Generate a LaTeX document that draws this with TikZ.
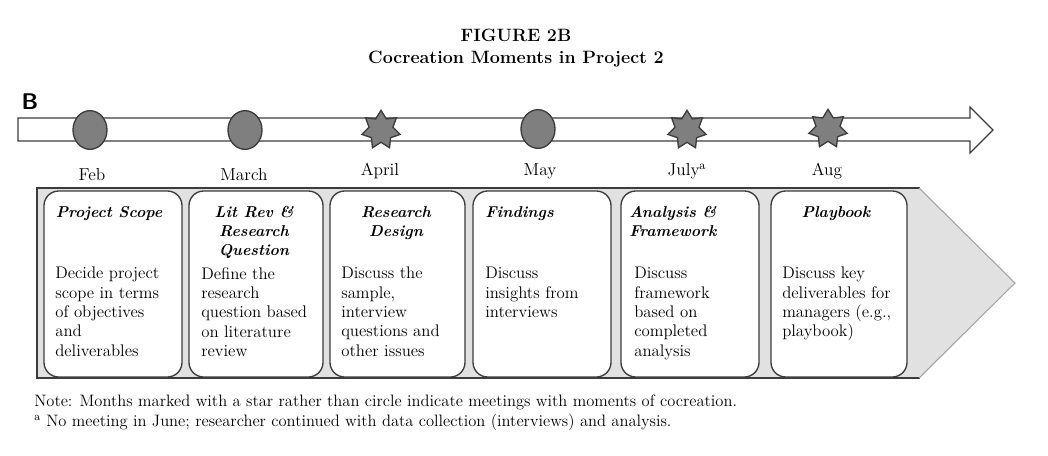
\documentclass[tikz,border=0pt]{standalone}
\usetikzlibrary{shapes.geometric}
\definecolor{edge}{HTML}{3C3C3C}
\definecolor{markfill}{HTML}{7F7F7F}
\definecolor{band}{HTML}{E1E1E1}
\begin{document}
\begin{tikzpicture}[x=0.75pt,y=-0.75pt,
  card/.style={draw=edge,line width=1pt,fill=white,rounded corners=11pt,inner sep=0pt},
  ttl/.style={anchor=north,font=\fontsize{11.8}{14.3}\selectfont\bfseries\itshape,inner sep=0pt},
  body/.style={anchor=north west,align=left,font=\fontsize{12.6}{14.5}\selectfont,inner sep=0pt},
  month/.style={font=\fontsize{13}{15}\selectfont,inner sep=0pt},
  dot/.style={ellipse,draw=edge,line width=1pt,fill=markfill,minimum width=25.5pt,minimum height=29pt,inner sep=0pt},
  starm/.style={star,star points=7,star point ratio=1.6,draw=edge,line width=1pt,fill=markfill,minimum size=29.5pt,inner sep=0pt}]
\useasboundingbox (0,0) rectangle (1048,455);
% title
\node[font=\fontsize{13.4}{16}\selectfont\bfseries] (t1) at (516,35) {FIGURE 2B};
\node[font=\fontsize{13.4}{16}\selectfont\bfseries] (t2) at (516,59) {Cocreation Moments in Project 2};
\node[font=\fontsize{17}{20}\sffamily\bfseries,inner sep=0pt] (lbl) at (30,102) {B};
% timeline arrow
\draw[draw=edge,line width=1pt,fill=white] (18,118) -- (970,118) -- (970,107) -- (993,130) -- (970,153) -- (970,141) -- (18,141) -- cycle;
% markers
\node[dot] (m1) at (90,130) {};
\node[dot] (m2) at (245,130) {};
\node[starm] (m3) at (381,130) {};
\node[dot] (m4) at (538,129) {};
\node[starm] (m5) at (687,130) {};
\node[starm] (m6) at (828,129) {};
% months
\node[month] (l1) at (92,175) {Feb};
\node[month] (l2) at (244,175) {March};
\node[month] (l3) at (380,171) {April};
\node[month] (l4) at (540,171) {May};
\node[month] (l5) at (687,171) {July\textsuperscript{a}};
\node[month] (l6) at (827,171) {Aug};
% chevron band
\draw[draw=edge,line width=1pt,fill=band] (920,188) -- (37,188) -- (37,378) -- (920,378);
\fill[band] (920,188) -- (1015,283) -- (920,378) -- cycle;
\draw[draw=gray!70,line width=0.8pt] (919,188) -- (1015,283) -- (919,378);
% cards
\node[card,minimum width=103.5pt,minimum height=139.5pt] (c1) at (113,284) {};
\node[card,minimum width=100.5pt,minimum height=139.5pt] (c2) at (256,284) {};
\node[card,minimum width=101.25pt,minimum height=139.5pt] (c3) at (397.5,284) {};
\node[card,minimum width=103.5pt,minimum height=139.5pt] (c4) at (542,284) {};
\node[card,minimum width=103.5pt,minimum height=139.5pt] (c5) at (690,284) {};
\node[card,minimum width=102pt,minimum height=139.5pt] (c6) at (839,284) {};
% titles
\node[ttl,align=center] (h1) at (109,206) {Project Scope};
\node[ttl,align=center] (h2) at (254,206) {Lit Rev \&\\Research\\Question};
\node[ttl,align=center] (h3) at (396,206) {Research\\Design};
\node[ttl,anchor=north west,align=left] (h4) at (485,206) {Findings};
\node[ttl,anchor=north west,align=left] (h5) at (629,206) {Analysis \&\\Framework};
\node[ttl,align=center] (h6) at (836,206) {Playbook};
% bodies
\node[body] (d1) at (55,267) {Decide project\\scope in terms\\of objectives\\and\\deliverables};
\node[body] (d2) at (201,267) {Define the\\research\\question based\\on literature\\review};
\node[body] (d3) at (341,267) {Discuss the\\sample,\\interview\\questions and\\other issues};
\node[body] (d4) at (485,267) {Discuss\\insights from\\interviews};
\node[body] (d5) at (634,267) {Discuss\\framework\\based on\\completed\\analysis};
\node[body] (d6) at (782,267) {Discuss key\\deliverables for\\managers (e.g.,\\playbook)};
% notes
\node[anchor=west,font=\fontsize{12.4}{14}\selectfont,inner sep=0pt] (n1) at (34,402) {Note: Months marked with a star rather than circle indicate meetings with moments of cocreation.};
\node[anchor=west,font=\fontsize{12.4}{14}\selectfont,inner sep=0pt] (n2) at (34,422) {\textsuperscript{a} No meeting in June; researcher continued with data collection (interviews) and analysis.};
\end{tikzpicture}
\end{document}
